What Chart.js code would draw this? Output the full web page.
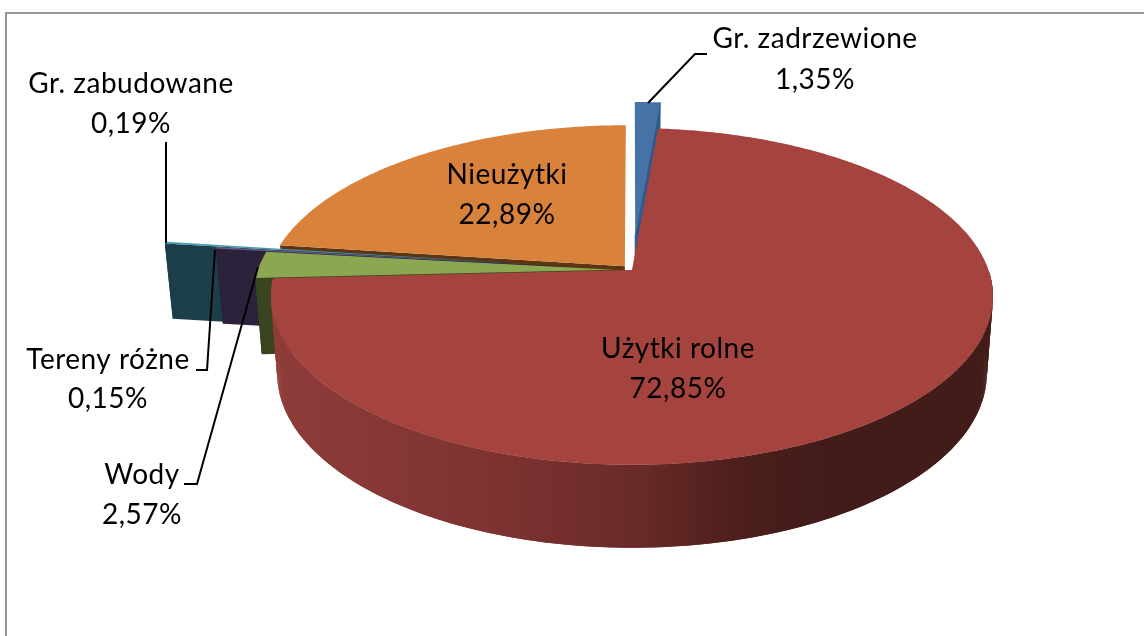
<!DOCTYPE html>
<html><head><meta charset="utf-8">
<style>html,body{margin:0;padding:0;background:#fff;overflow:hidden}canvas{display:block}</style>
<script src="https://cdn.jsdelivr.net/npm/chart.js@4"></script></head>
<body><canvas id="c" width="1144" height="636"></canvas>
<script>
const categories = ['Gr. zadrzewione','Użytki rolne','Wody','Tereny różne','Gr. zabudowane','Nieużytki'];
const shares = [1.35,72.85,2.57,0.15,0.19,22.89];
const topColors = ['#4572A7','#A5433F','#8BA750','#71588F','#4198AF','#D9823C'];
const sideColors = ['#2F5A8C','#6B2B29','#3A4520','#2D223C','#1B3E48','#5C3512'];
const explode = [79,0,18,72,128,11];

// perspective of the pie's tilted disc
const K = 0.157, SX = 0.9875, SY = 0.455, DEPTH = 76, LOW_SX = 0.983, LOW_SY = 0.471;
const FONT = '28px Lato, Carlito, sans-serif';

function project(arc, u, v, low){
  const R = arc.outerRadius, w = 1 - K*v;
  return low ? [arc.x + R*SX*LOW_SX*u/w, arc.y + DEPTH + R*LOW_SY*v/w]
             : [arc.x + R*SX*u/w, arc.y + R*SY*v/w];
}
function shift(arc){
  const m = (arc.startAngle+arc.endAngle)/2, d = (arc.options.offset||0)/arc.outerRadius;
  return [Math.cos(m)*d, Math.sin(m)*d];
}
function rim(arc, low, frontOnly){
  const [dx,dy] = shift(arc), pts = [], n = Math.max(2, Math.ceil((arc.endAngle-arc.startAngle)/0.01));
  for(let i=0;i<=n;i++){
    const a = arc.startAngle + (arc.endAngle-arc.startAngle)*i/n;
    if(frontOnly && Math.sin(a) < 0) continue;
    pts.push(project(arc, Math.cos(a)+dx, Math.sin(a)+dy, low));
  }
  return pts;
}
function fillPoly(ctx, pts, fill, edge){
  ctx.beginPath();
  pts.forEach((p,i)=> i ? ctx.lineTo(p[0],p[1]) : ctx.moveTo(p[0],p[1]));
  ctx.closePath();
  ctx.fillStyle = fill; ctx.fill();
  if(edge){ ctx.strokeStyle = fill; ctx.lineWidth = 1; ctx.stroke(); }
}
function rimWall(ctx, arc, fill, frontOnly){
  const a = rim(arc,false,frontOnly), b = rim(arc,true,frontOnly);
  for(let i=0;i<a.length-1;i++){
    const j = Math.min(i+2, a.length-1);
    fillPoly(ctx, [a[i],a[j],b[j],b[i]], fill);
  }
}
function cutFace(arc, angle){
  const [dx,dy] = shift(arc), u = Math.cos(angle)+dx, v = Math.sin(angle)+dy;
  return [project(arc,dx,dy,false), project(arc,u,v,false), project(arc,u,v,true), project(arc,dx,dy,true)];
}

const ArcEl = Chart.registry.getElement('arc');
ArcEl.prototype.draw = function(ctx){
  const [dx,dy] = shift(this);
  const pts = [project(this,dx,dy,false)].concat(rim(this,false));
  fillPoly(ctx, pts, this.options.backgroundColor);
};

const frame = { id:'frame', beforeDraw(chart){
  const c = chart.ctx; c.save();
  c.strokeStyle = '#989898'; c.lineWidth = 2;
  c.beginPath(); c.moveTo(6,640); c.lineTo(6,13); c.lineTo(1150,13); c.stroke();
  c.restore();
}};

const walls = { id:'walls', beforeDatasetsDraw(chart){
  const ctx = chart.ctx, arcs = chart.getDatasetMeta(0).data;
  ctx.save();
  fillPoly(ctx, cutFace(arcs[0], arcs[0].endAngle), sideColors[0], true);
  // back to front: orange, teal, purple, green
  fillPoly(ctx, cutFace(arcs[5], arcs[5].startAngle), sideColors[5]);
  [4,3,2].forEach(i=>{
    fillPoly(ctx, cutFace(arcs[i], arcs[i].startAngle), sideColors[i]);
    rimWall(ctx, arcs[i], sideColors[i]);
  });
  const g = ctx.createLinearGradient(272,0,993,0);
  g.addColorStop(0,'#8F3C39'); g.addColorStop(0.3,'#7E3331'); g.addColorStop(0.5,'#6A2B28');
  g.addColorStop(0.66,'#4A1E1B'); g.addColorStop(0.78,'#421C19'); g.addColorStop(1,'#421C19');
  rimWall(ctx, arcs[1], g, true);
  ctx.restore();
}};

const pct = v => v.toFixed(2).replace('.',',') + '%';
const labelSpots = [[815,48,89],[678,358,398],[142,484,524],[108,369,408],[131,93,133],[507,184,224]];
const leaders = [
  [[648,103],[695,54],[707,54]],
  null,
  [[258,267],[197,484],[184,484]],
  [[215,250],[207,370],[196,370]],
  [[166,243],[166,142]],
  null
];
const labels = { id:'labels', afterDatasetsDraw(chart){
  const c = chart.ctx; c.save();
  c.strokeStyle = '#000'; c.lineWidth = 2;
  leaders.forEach(l=>{ if(!l) return;
    c.beginPath(); l.forEach((p,i)=> i ? c.lineTo(p[0],p[1]) : c.moveTo(p[0],p[1])); c.stroke();
  });
  c.fillStyle = '#000'; c.font = FONT; c.letterSpacing = '0.5px'; c.textAlign = 'center'; c.textBaseline = 'alphabetic';
  categories.forEach((name,i)=>{
    const s = labelSpots[i];
    c.fillText(name, s[0], s[1]);
    c.fillText(pct(shares[i]), s[0], s[2]);
  });
  c.restore();
}};

new Chart(document.getElementById('c'), {
  type:'pie',
  data:{ labels:categories, datasets:[{ data:shares, backgroundColor:topColors, offset:explode, borderWidth:0, clip:false }] },
  options:{
    responsive:false, animation:false, radius:361,
    layout:{ padding:{ left:120, bottom:96 } },
    plugins:{ legend:{display:false}, tooltip:{enabled:false} }
  },
  plugins:[frame, walls, labels]
});
</script></body></html>
